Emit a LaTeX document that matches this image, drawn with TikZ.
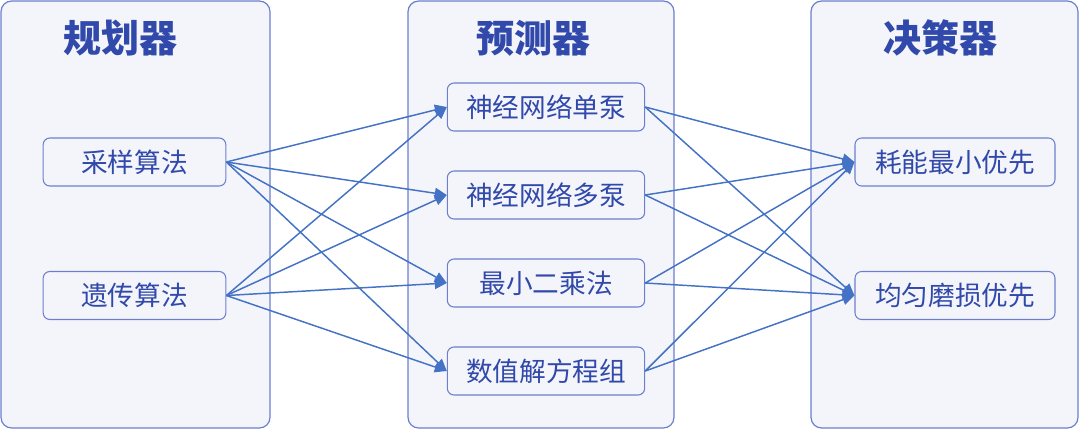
\documentclass[tikz,border=0pt]{standalone}
\usepackage{fontspec}
\setmainfont{Noto Sans CJK SC}
\usetikzlibrary{arrows.meta}
\definecolor{panelfill}{HTML}{F4F5FB}
\definecolor{paneldraw}{HTML}{6C7FCF}
\definecolor{textblue}{HTML}{3049AA}
\definecolor{linkblue}{HTML}{4472C4}
\begin{document}
\begin{tikzpicture}[x=0.75pt,y=-0.75pt,
  panel/.style={draw=paneldraw,fill=panelfill,line width=0.9pt,rounded corners=8pt},
  title/.style={text=textblue,font=\bfseries\fontsize{28.5}{32}\selectfont},
  algbox/.style={draw=paneldraw,fill=panelfill,line width=0.8pt,rounded corners=5pt,
    minimum height=36pt,text=textblue,font=\fontsize{20}{23}\selectfont},
  link/.style={draw=linkblue,line width=1.1pt,-{Triangle[length=9pt,width=8pt]}}]
  \useasboundingbox (0,0) rectangle (1080,430);
  % three columns
  \draw[panel] (1,1) rectangle (270,428);
  \draw[panel] (408,1) rectangle (674,428);
  \draw[panel] (811,1) rectangle (1078,428);
  \node[title] (planner) at (120,38) {规划器};
  \node[title] (predictor) at (533,38) {预测器};
  \node[title] (decider) at (940,38) {决策器};
  % planner
  \node[algbox,minimum width=137pt] (sample) at (134.5,162) {采样算法};
  \node[algbox,minimum width=137pt] (genetic) at (134.5,295.5) {遗传算法};
  % predictor
  \node[algbox,minimum width=148pt] (nnsingle) at (546,107) {神经网络单泵};
  \node[algbox,minimum width=148pt] (nnmulti) at (546,195) {神经网络多泵};
  \node[algbox,minimum width=148pt] (lsq) at (546,283) {最小二乘法};
  \node[algbox,minimum width=148pt] (numeric) at (546,371) {数值解方程组};
  % decider
  \node[algbox,minimum width=150pt] (energy) at (955,162) {耗能最小优先};
  \node[algbox,minimum width=150pt] (wear) at (955,295.5) {均匀磨损优先};
  % links
  \foreach \src in {sample,genetic}
    \foreach \dst in {nnsingle,nnmulti,lsq,numeric}
      \draw[link] (\src.east) -- (\dst.west);
  \foreach \src in {nnsingle,nnmulti,lsq,numeric}
    \foreach \dst in {energy,wear}
      \draw[link] (\src.east) -- (\dst.west);
\end{tikzpicture}
\end{document}
